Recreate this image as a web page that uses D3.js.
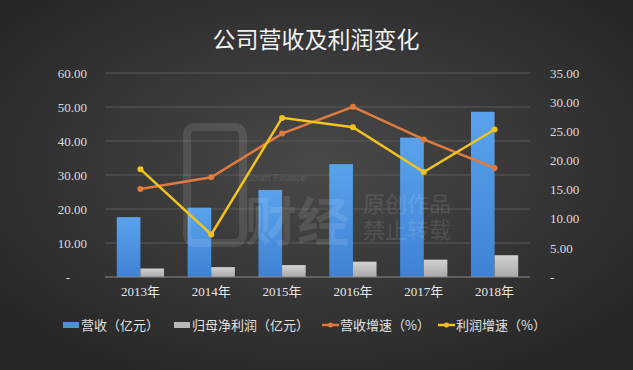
<!DOCTYPE html>
<html>
<head>
<meta charset="utf-8">
<script src="https://cdn.jsdelivr.net/npm/d3@7"></script>
<style>
  body { margin: 0; background: #2b2b2b; }
  text { font-family: "Liberation Serif", "Noto Sans CJK SC", serif; }
</style>
</head>
<body>
<div id="chart"></div>
<script>
// Data
const years = ["2013年", "2014年", "2015年", "2016年", "2017年", "2018年"];
const revenue = [17.6, 20.4, 25.6, 33.2, 41.0, 48.6];      // 营收（亿元）
const netProfit = [2.5, 2.9, 3.5, 4.5, 5.1, 6.4];           // 归母净利润（亿元）
const revenueGrowth = [15.1, 17.1, 24.6, 29.2, 23.6, 18.7]; // 营收增速（%）
const profitGrowth = [18.5, 7.3, 27.3, 25.7, 18.0, 25.3];   // 利润增速（%）
const leftTicks = [0, 10, 20, 30, 40, 50, 60];
const rightTicks = [0, 5, 10, 15, 20, 25, 30, 35];

const W = 633, H = 370;
const margin = { top: 73, right: 103, bottom: 93, left: 105 };
const width = W - margin.left - margin.right;
const height = H - margin.top - margin.bottom;

const svg = d3.select("#chart")
    .append("svg")
    .attr("width", W)
    .attr("height", H);

// background gradient
const defs = svg.append("defs");
const bg = defs.append("radialGradient").attr("id", "bg")
    .attr("cx", "50%").attr("cy", "45%").attr("r", "65%");
bg.append("stop").attr("offset", "0%").attr("stop-color", "#494949");
bg.append("stop").attr("offset", "100%").attr("stop-color", "#262626");

const blueGrad = defs.append("linearGradient").attr("id", "blueGrad")
    .attr("x1", 0).attr("y1", 0).attr("x2", 0).attr("y2", 1);
blueGrad.append("stop").attr("offset", "0%").attr("stop-color", "#5aa3ec");
blueGrad.append("stop").attr("offset", "100%").attr("stop-color", "#3f82d4");

const grayGrad = defs.append("linearGradient").attr("id", "grayGrad")
    .attr("x1", 0).attr("y1", 0).attr("x2", 0).attr("y2", 1);
grayGrad.append("stop").attr("offset", "0%").attr("stop-color", "#d2d2d2");
grayGrad.append("stop").attr("offset", "100%").attr("stop-color", "#a8a8a8");

svg.append("rect").attr("width", W).attr("height", H).attr("fill", "url(#bg)");

// Title
svg.append("text")
    .attr("x", 316)
    .attr("y", 48)
    .attr("text-anchor", "middle")
    .style("font-family", "'Noto Sans CJK SC', sans-serif")
    .style("font-size", "23px")
    .style("fill", "#f2f2f2")
    .text("公司营收及利润变化");

const g = svg.append("g")
    .attr("transform", `translate(${margin.left},${margin.top})`);

// Scales
const x = d3.scaleBand()
    .domain(years)
    .range([0, width]);

const xSub = d3.scaleBand()
    .domain(["rev", "profit"])
    .range([0, x.bandwidth()])
    .paddingInner(0)
    .paddingOuter(0.5);

const yLeft = d3.scaleLinear()
    .domain([0, 60])
    .range([height, 0]);

const yRight = d3.scaleLinear()
    .domain([0, 35])
    .range([height, 0]);

// Gridlines
g.selectAll(".grid")
    .data(leftTicks.slice(1))
    .enter()
    .append("line")
    .attr("class", "grid")
    .attr("x1", 0)
    .attr("x2", width)
    .attr("y1", d => yLeft(d))
    .attr("y2", d => yLeft(d))
    .style("stroke", "#5a5a5a")
    .style("stroke-width", 1);

// Bars
g.selectAll(".bar-rev")
    .data(revenue)
    .enter()
    .append("rect")
    .attr("class", "bar-rev")
    .attr("x", (d, i) => x(years[i]) + xSub("rev"))
    .attr("width", xSub.bandwidth())
    .attr("y", d => yLeft(d))
    .attr("height", d => height - yLeft(d))
    .style("fill", "url(#blueGrad)");

g.selectAll(".bar-profit")
    .data(netProfit)
    .enter()
    .append("rect")
    .attr("class", "bar-profit")
    .attr("x", (d, i) => x(years[i]) + xSub("profit"))
    .attr("width", xSub.bandwidth())
    .attr("y", d => yLeft(d))
    .attr("height", d => height - yLeft(d))
    .style("fill", "url(#grayGrad)");

// watermark, sits over the bars
const wm = g.append("g").style("fill", "#ffffff").style("opacity", 0.1)
    .style("font-family", "'Noto Sans CJK SC', sans-serif").style("font-size", "22px");
wm.append("text").attr("x", 258).attr("y", 139).text("原创作品");
wm.append("text").attr("x", 258).attr("y", 165).text("禁止转载");
wm.append("text").attr("x", 140).attr("y", 168)
    .style("font-size", "52px").style("font-weight", "bold").text("财经");
wm.append("text").attr("x", 142).attr("y", 108)
    .style("font-size", "10px").text("Smart Finance");
wm.append("rect").attr("x", 82).attr("y", 54).attr("width", 56).attr("height", 116)
    .attr("rx", 8).style("fill", "none").style("stroke", "#fff").style("stroke-width", 8);

// bottom axis line
g.append("line")
    .attr("x1", 0).attr("x2", width)
    .attr("y1", height).attr("y2", height)
    .style("stroke", "#8a8a8a");

// Lines
const cx = (d, i) => x(years[i]) + x.bandwidth() / 2;

const lineSeries = [
    { values: revenueGrowth, color: "#e07b3e" },
    { values: profitGrowth, color: "#f2c31c" }
];

lineSeries.forEach(s => {
    const line = d3.line()
        .x(cx)
        .y(d => yRight(d));
    g.append("path")
        .datum(s.values)
        .attr("d", line)
        .style("fill", "none")
        .style("stroke", s.color)
        .style("stroke-width", 2.5);
    g.selectAll(null)
        .data(s.values)
        .enter()
        .append("circle")
        .attr("cx", cx)
        .attr("cy", d => yRight(d))
        .attr("r", 3)
        .style("fill", s.color);
});

// Axes
const fmt = d => d === 0 ? "-" : d3.format(".2f")(d);

const leftAxis = g.append("g")
    .call(d3.axisLeft(yLeft).tickValues(leftTicks).tickFormat(fmt).tickSize(0).tickPadding(18));
leftAxis.select(".domain").remove();
leftAxis.selectAll("text")
    .style("font-size", "13px")
    .style("fill", "#dcdcdc")
    .style("font-family", "'Liberation Serif', serif");
leftAxis.selectAll("text").filter(d => d === 0).attr("x", -35);

const rightAxis = g.append("g")
    .attr("transform", `translate(${width},0)`)
    .call(d3.axisRight(yRight).tickValues(rightTicks).tickFormat(fmt).tickSize(0).tickPadding(20));
rightAxis.select(".domain").remove();
rightAxis.selectAll("text")
    .style("font-size", "13px")
    .style("fill", "#dcdcdc")
    .style("font-family", "'Liberation Serif', serif");

const bottomAxis = g.append("g")
    .attr("transform", `translate(0,${height})`)
    .call(d3.axisBottom(x).tickSize(0).tickPadding(10));
bottomAxis.select(".domain").remove();
bottomAxis.selectAll("text")
    .style("font-size", "13px")
    .style("fill", "#e6e6e6")
    .style("font-family", "'Liberation Serif', 'Noto Sans CJK SC', serif");

// Legend
const legendData = [
    { label: "营收（亿元）", type: "rect", color: "#4a90dd", x: 63 },
    { label: "归母净利润（亿元）", type: "rect", color: "#b8b8b8", x: 174 },
    { label: "营收增速（%）", type: "line", color: "#e07b3e", x: 322 },
    { label: "利润增速（%）", type: "line", color: "#f2c31c", x: 438 }
];

const legend = svg.append("g").attr("class", "legend");
legendData.forEach(d => {
    const item = legend.append("g").attr("transform", `translate(${d.x},325)`);
    if (d.type === "rect") {
        item.append("rect")
            .attr("x", 0).attr("y", -3)
            .attr("width", 16).attr("height", 6)
            .style("fill", d.color);
    } else {
        item.append("line")
            .attr("x1", 0).attr("x2", 17)
            .attr("y1", 0).attr("y2", 0)
            .style("stroke", d.color).style("stroke-width", 2.5);
        item.append("circle")
            .attr("cx", 8.5).attr("cy", 0).attr("r", 2.5)
            .style("fill", d.color);
    }
    item.append("text")
        .attr("x", 18)
        .attr("y", 5)
        .style("font-size", "13px")
        .style("fill", "#e0e0e0")
        .style("font-family", "'Noto Sans CJK SC', sans-serif")
        .text(d.label);
});
</script>
</body>
</html>
